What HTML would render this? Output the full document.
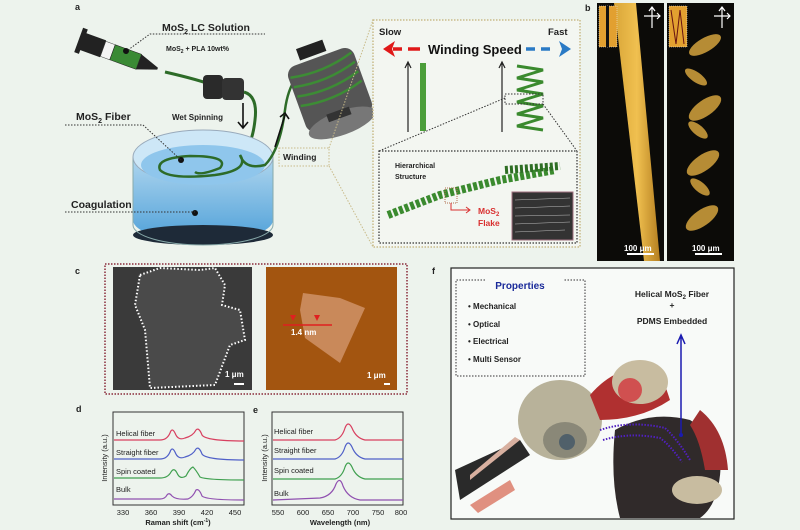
<!DOCTYPE html>
<html><head><meta charset="utf-8"><style>
html,body{margin:0;padding:0;background:#edf3ed;}
svg{display:block;font-family:"Liberation Sans",sans-serif;}
</style></head><body>
<svg width="800" height="530" viewBox="0 0 800 530" xmlns="http://www.w3.org/2000/svg">
<defs>
<linearGradient id="water" x1="0" y1="0" x2="0" y2="1"><stop offset="0" stop-color="#a9d3ef"/><stop offset="1" stop-color="#3d97d6"/></linearGradient>
<linearGradient id="fib" x1="0" y1="0" x2="1" y2="0"><stop offset="0" stop-color="#d9a638"/><stop offset="0.5" stop-color="#f0c050"/><stop offset="1" stop-color="#b57f20"/></linearGradient>
</defs>
<rect width="800" height="530" fill="#edf3ed"/>
<g font-weight="bold" font-size="9" fill="#222">
<text x="75" y="10">a</text><text x="585" y="11">b</text><text x="75" y="274">c</text><text x="432" y="274">f</text><text x="76" y="412">d</text><text x="253" y="413">e</text>
</g>
<!-- syringe -->
<g transform="rotate(20 120 55)">
<rect x="80" y="46" width="22" height="18" fill="#222"/><rect x="76" y="42" width="5" height="26" fill="#222"/>
<rect x="102" y="47" width="10" height="16" fill="#f4f4f4" stroke="#333" stroke-width=".5"/>
<rect x="112" y="47" width="28" height="16" fill="#3a8a35" stroke="#222" stroke-width=".5"/>
<polygon points="140,47 160,54 160,56 140,63" fill="#222"/>
</g>
<circle cx="126" cy="51" r="3" fill="#111"/>
<path d="M128 50 L150 34 L265 34" stroke="#333" stroke-width="1" stroke-dasharray="1.5 1.5" fill="none"/>
<text x="162" y="31" font-size="10.5" font-weight="bold" fill="#222">MoS<tspan font-size="7" dy="3">2</tspan><tspan dy="-3"> LC Solution</tspan></text>
<text x="166" y="51" font-size="7" font-weight="bold" fill="#222">MoS<tspan font-size="5" dy="2">2</tspan><tspan dy="-2"> + PLA 10wt%</tspan></text>
<path d="M165 72 Q200 80 215 86" stroke="#2d6b28" stroke-width="3" fill="none"/>
<!-- roller -->
<rect x="203" y="75" width="20" height="24" rx="4" fill="#2a2a2a"/><rect x="222" y="78" width="22" height="22" rx="4" fill="#333"/>
<path d="M244 92 Q258 96 255 120 Q252 148 240 155" stroke="#2d6b28" stroke-width="3" fill="none"/>
<text x="172" y="120" font-size="8" font-weight="bold" fill="#222">Wet Spinning</text>
<path d="M243 103 L243 128 M238 122 L243 128 L248 122" stroke="#111" stroke-width="1.6" fill="none"/>
<!-- dish -->
<path d="M133 157 L133 220 A70 22 0 0 0 273 220 L273 157 Z" fill="url(#water)" opacity=".9"/>
<ellipse cx="203" cy="235" rx="70" ry="10" fill="#1e2a38"/>
<path d="M133 157 L133 225 A70 20 0 0 0 273 225 L273 157" fill="none" stroke="#8aa" stroke-width="1"/>
<ellipse cx="203" cy="157" rx="70" ry="27" fill="#cde7f7" stroke="#9ab" stroke-width="1"/>
<ellipse cx="203" cy="165" rx="62" ry="20" fill="#8fc6ec"/>
<path d="M240 155 Q250 170 215 175 Q170 180 160 170 Q155 158 190 156 Q230 156 220 168 Q200 176 195 172 M240 155 Q245 170 265 165 Q280 150 285 110 Q290 70 320 60" stroke="#2d6b28" stroke-width="2.5" fill="none"/>
<circle cx="181" cy="160" r="3" fill="#111"/><circle cx="195" cy="213" r="3" fill="#111"/>
<text x="76" y="120" font-size="10.5" font-weight="bold" fill="#222">MoS<tspan font-size="7" dy="3">2</tspan><tspan dy="-3"> Fiber</tspan></text>
<path d="M65 125 L143 125 L181 160" stroke="#333" stroke-dasharray="1.5 1.5" fill="none"/>
<text x="71" y="208" font-size="10.5" font-weight="bold" fill="#222">Coagulation</text>
<path d="M65 212 L195 212" stroke="#333" stroke-dasharray="1.5 1.5" fill="none"/>
<path d="M275 147 L285 115 M280 117 L285 113 L289 119" stroke="#111" stroke-width="1.6" fill="none"/>
<!-- spool -->
<g transform="rotate(-20 330 90)">
<rect x="295" y="55" width="70" height="70" rx="10" fill="#555"/>
<ellipse cx="330" cy="125" rx="35" ry="12" fill="#777"/>
<rect x="312" y="40" width="28" height="12" fill="#222"/>
<g stroke="#3d8c35" stroke-width="2.5" fill="none"><path d="M297 65 Q330 72 363 62"/><path d="M297 75 Q330 82 363 72"/><path d="M297 85 Q330 92 363 82"/><path d="M297 95 Q330 102 363 92"/></g>
<rect x="318" y="112" width="24" height="8" fill="#333"/>
</g>
<rect x="279" y="148" width="50" height="18" fill="none" stroke="#c9bb8a" stroke-dasharray="1.5 1.5"/>
<text x="283" y="160" font-size="8.5" font-weight="bold" fill="#222">Winding</text>
<path d="M329 148 L373 20 M329 166 L373 247" stroke="#c9bb8a" stroke-width="1" stroke-dasharray="1.5 1.5"/>
<!-- yellow box -->
<rect x="373" y="20" width="207" height="227" fill="#f3f6f1" stroke="#c9bb8a" stroke-width="1.5" stroke-dasharray="1.5 1.5"/>
<text x="379" y="35" font-size="9.5" font-weight="bold" fill="#222">Slow</text>
<text x="548" y="35" font-size="9.5" font-weight="bold" fill="#222">Fast</text>
<polygon points="383,49 395,41 392,49 395,57" fill="#e01818"/><path d="M393 49 H402 M408 49 H420" stroke="#e01818" stroke-width="3.5"/>
<text x="428" y="54" font-size="13" font-weight="bold" fill="#111">Winding Speed</text>
<path d="M526 49 H535 M541 49 H550" stroke="#2a7ac5" stroke-width="3.5"/><polygon points="571,49 559,41 562,49 559,57" fill="#2a7ac5"/>
<rect x="420" y="63" width="6" height="68" fill="#4b9e3a"/>
<path d="M408 132 V63 M405 68 L408 62 L411 68" stroke="#222" stroke-width="1.2" fill="none"/>
<path d="M502 132 V63 M499 68 L502 62 L505 68" stroke="#222" stroke-width="1.2" fill="none"/>
<g stroke="#3a8a2e" stroke-width="3" fill="none"><path d="M517 66 L543 70 L517 78 L543 82 L517 90 L543 94 L517 102 L543 106 L517 114 L543 118 L517 126 L543 130"/></g>
<rect x="505" y="94" width="38" height="10" fill="none" stroke="#333" stroke-dasharray="1.5 1.5"/>
<path d="M505 98 L379 151 M543 104 L577 151" stroke="#333" stroke-dasharray="1.5 1.5"/>
<rect x="379" y="151" width="198" height="92" fill="none" stroke="#333" stroke-width="1.2" stroke-dasharray="1.5 1.5"/>
<text x="395" y="168" font-size="7" font-weight="bold" fill="#222">Hierarchical</text><text x="395" y="179" font-size="7" font-weight="bold" fill="#222">Structure</text>
<path d="M388 215 L440 195 L500 180 L555 170" stroke="#3a8a2e" stroke-width="8" stroke-dasharray="4 2" fill="none"/>
<path d="M505 170 L560 166" stroke="#2e6e24" stroke-width="8" stroke-dasharray="3 2" fill="none"/>
<rect x="445" y="188" width="12" height="15" fill="none" stroke="#b07050" stroke-dasharray="1 1"/>
<path d="M451 203 V210 H470 M466 207 L470 210 L466 213" stroke="#d93030" fill="none"/>
<text x="478" y="214" font-size="8.5" font-weight="bold" fill="#d93030">MoS<tspan font-size="6" dy="2">2</tspan></text>
<text x="478" y="226" font-size="8.5" font-weight="bold" fill="#d93030">Flake</text>
<rect x="512" y="192" width="61" height="48" fill="#333" stroke="#a07080"/>
<g stroke="#bbb" stroke-width=".6"><path d="M515 200 L570 198 M515 208 L570 206 M515 216 L570 215 M515 224 L570 222 M515 232 L565 230"/></g>
<!-- b -->
<rect x="597" y="3" width="67" height="258" fill="#0c0b08"/>
<polygon points="614,3 636,3 660,261 644,261" fill="url(#fib)"/>
<rect x="667" y="3" width="67" height="258" fill="#0c0b08"/>
<g fill="#c99a3a" opacity=".9">
<ellipse cx="705" cy="45" rx="18" ry="7" transform="rotate(-30 705 45)"/><ellipse cx="696" cy="77" rx="13" ry="5" transform="rotate(35 696 77)"/>
<ellipse cx="705" cy="108" rx="19" ry="8" transform="rotate(-35 705 108)"/><ellipse cx="698" cy="130" rx="12" ry="5" transform="rotate(40 698 130)"/>
<ellipse cx="703" cy="163" rx="19" ry="8" transform="rotate(-35 703 163)"/><ellipse cx="700" cy="187" rx="12" ry="5" transform="rotate(40 700 187)"/>
<ellipse cx="702" cy="218" rx="19" ry="8" transform="rotate(-35 702 218)"/></g>
<rect x="599" y="6" width="18" height="41" fill="#e2a030" stroke="#eee" stroke-dasharray="1 1" stroke-width=".5"/><rect x="606" y="6" width="3" height="41" fill="#111"/>
<rect x="669" y="6" width="18" height="41" fill="#e2a030" stroke="#eee" stroke-dasharray="1 1" stroke-width=".5"/>
<path d="M671 10 L676 44 L680 10 L684 44" stroke="#611" fill="none"/>
<g stroke="#fff" stroke-width="1.2" fill="none"><path d="M644 16 H660 M652 8 V28 M649 11 L652 7 L655 11 M657 13 L660 16 L657 19"/><path d="M714 16 H730 M722 8 V28 M719 11 L722 7 L725 11 M727 13 L730 16 L727 19"/></g>
<text x="624" y="251" font-size="8" font-weight="bold" fill="#fff">100 μm</text><rect x="627" y="253" width="27" height="2" fill="#fff"/>
<text x="692" y="251" font-size="8" font-weight="bold" fill="#fff">100 μm</text><rect x="695" y="253" width="27" height="2" fill="#fff"/>
<!-- c -->
<rect x="105" y="264" width="302" height="130" fill="none" stroke="#8a2a3a" stroke-width="1.5" stroke-dasharray="1.5 1.5"/>
<rect x="113" y="267" width="139" height="123" fill="#3a3a3a"/>
<path d="M140 275 L160 268 L200 270 L215 268 L225 285 L222 305 L240 310 L245 340 L230 345 L215 385 L150 388 L145 330 L135 305 Z" fill="#4a4a4a" stroke="#fff" stroke-width="2" stroke-dasharray="1.5 2"/>
<text x="225" y="377" font-size="8" font-weight="bold" fill="#fff">1 μm</text><rect x="234" y="383" width="10" height="2" fill="#fff"/>
<rect x="266" y="267" width="131" height="123" fill="#a35510"/>
<polygon points="303,293 340,298 365,308 340,363 305,338 300,310" fill="#c9895a"/>
<path d="M283 325 H332" stroke="#e02020" stroke-width="1.5"/><polygon points="290,315 296,315 293,321" fill="#e02020"/><polygon points="314,315 320,315 317,321" fill="#e02020"/>
<text x="291" y="335" font-size="8" font-weight="bold" fill="#fff">1.4 nm</text>
<text x="367" y="378" font-size="8" font-weight="bold" fill="#fff">1 μm</text><rect x="384" y="383" width="6" height="2" fill="#fff"/>
<!-- d -->
<rect x="113" y="412" width="131" height="93" fill="none" stroke="#333" stroke-width="1"/>
<g fill="none" stroke-width="1.2">
<path d="M114 440 L160 440 Q167 440 170 433 Q172 427 175 433 Q178 441 185 438 Q193 436 196 430 Q199 427 202 435 Q206 441 244 441" stroke="#d84060"/>
<path d="M114 459 L160 459 Q167 459 170 452 Q172 446 175 452 Q178 460 185 457 Q193 455 196 449 Q199 446 202 454 Q206 460 244 460" stroke="#5060c8"/>
<path d="M114 478 L160 478 Q168 478 171 472 Q174 467 177 473 Q180 480 186 476 Q190 468 193 467 Q196 470 200 477 Q206 480 244 480" stroke="#40a050"/>
<path d="M114 499 L160 499 Q165 499 167 495 Q169 492 172 496 Q176 500 188 499 Q193 497 196 490 Q199 488 202 496 Q206 500 244 500" stroke="#9050b0"/>
</g>
<g font-size="7.5" fill="#222"><text x="116" y="436">Helical fiber</text><text x="116" y="455">Straight fiber</text><text x="116" y="474">Spin coated</text><text x="116" y="492">Bulk</text></g>
<g font-size="7.5" fill="#222" text-anchor="middle"><text x="123" y="515">330</text><text x="151" y="515">360</text><text x="179" y="515">390</text><text x="207" y="515">420</text><text x="235" y="515">450</text>
<text x="178" y="525" font-weight="bold">Raman shift (cm<tspan font-size="5" dy="-3">-1</tspan><tspan dy="3">)</tspan></text>
<text transform="translate(107 458) rotate(-90)" >Intensity (a.u.)</text>
<text transform="translate(267 458) rotate(-90)" >Intensity (a.u.)</text>
<text x="278" y="515">550</text><text x="303" y="515">600</text><text x="328" y="515">650</text><text x="353" y="515">700</text><text x="378" y="515">750</text><text x="401" y="515">800</text>
<text x="340" y="525" font-weight="bold">Wavelength (nm)</text></g>
<!-- e -->
<rect x="272" y="412" width="131" height="93" fill="none" stroke="#333" stroke-width="1"/>
<g fill="none" stroke-width="1.2">
<path d="M273 440 L335 440 Q342 438 345 428 Q348 420 352 428 Q356 438 365 440 L403 440" stroke="#d84060"/>
<path d="M273 459 L335 459 Q342 457 345 447 Q348 439 352 447 Q356 457 365 459 L403 459" stroke="#5060c8"/>
<path d="M273 479 L335 479 Q342 477 345 467 Q348 459 352 467 Q356 477 365 479 L403 479" stroke="#40a050"/>
<path d="M273 500 L320 498 Q332 496 336 484 Q340 476 343 486 Q348 498 360 500 L403 500" stroke="#9050b0"/>
</g>
<g font-size="7.5" fill="#222"><text x="274" y="434">Helical fiber</text><text x="274" y="453">Straight fiber</text><text x="274" y="473">Spin coated</text><text x="274" y="496">Bulk</text></g>
<!-- f -->
<rect x="451" y="268" width="283" height="251" fill="#f8faf8" stroke="#222" stroke-width="1.2"/>
<path d="M485 280 H456 V376 H585 V280 H564" fill="none" stroke="#333" stroke-dasharray="1.5 1.5"/>
<text x="520" y="289" font-size="10" font-weight="bold" fill="#1a2a9a" text-anchor="middle">Properties</text>
<g font-size="8" font-weight="bold" fill="#222"><text x="468" y="309">• Mechanical</text><text x="468" y="327">• Optical</text><text x="468" y="344">• Electrical</text><text x="468" y="362">• Multi Sensor</text></g>
<g font-size="8.5" font-weight="bold" fill="#222" text-anchor="middle"><text x="672" y="297">Helical MoS<tspan font-size="6" dy="2">2</tspan><tspan dy="-2"> Fiber</tspan></text><text x="672" y="308">+</text><text x="672" y="324">PDMS Embedded</text></g>
<!-- robot -->
<ellipse cx="560" cy="420" rx="42" ry="40" fill="#b8b29a"/>
<ellipse cx="565" cy="440" rx="22" ry="18" fill="#8a8878"/>
<circle cx="567" cy="442" r="8" fill="#50606a"/>
<path d="M590 395 Q620 360 660 370 L670 400 Q640 420 600 420 Z" fill="#b03030"/>
<ellipse cx="640" cy="382" rx="28" ry="22" fill="#c8bca0"/><circle cx="630" cy="390" r="12" fill="#d05050"/>
<path d="M615 430 Q650 410 690 420 L720 440 Q725 500 700 518 L620 518 Q610 480 615 430 Z" fill="#302a2a"/>
<path d="M700 410 Q725 430 728 470 L705 470 Q700 440 690 425 Z" fill="#a03030"/>
<ellipse cx="697" cy="490" rx="25" ry="14" fill="#c8bca0"/>
<path d="M455 470 L520 440 L530 455 L460 500 Z" fill="#2a2a2a"/>
<path d="M470 475 L515 437 L520 440 L470 480 Z" fill="#d8b0a0"/>
<path d="M470 505 L510 480 L515 490 L478 513 Z" fill="#e09080"/>
<path d="M600 430 Q630 420 665 428 Q678 440 690 460" stroke="#5020c0" stroke-width="2" stroke-dasharray="1.5 1.5" fill="none"/>
<path d="M603 440 Q630 432 660 438 Q670 445 682 462" stroke="#5020c0" stroke-width="2" stroke-dasharray="1.5 1.5" fill="none"/>
<path d="M681 434 V337 M677 344 L681 335 L685 344" stroke="#1a1ab0" stroke-width="1.5" fill="none"/>
<circle cx="681" cy="435" r="2" fill="#1a1ab0"/>
</svg>
</body></html>
